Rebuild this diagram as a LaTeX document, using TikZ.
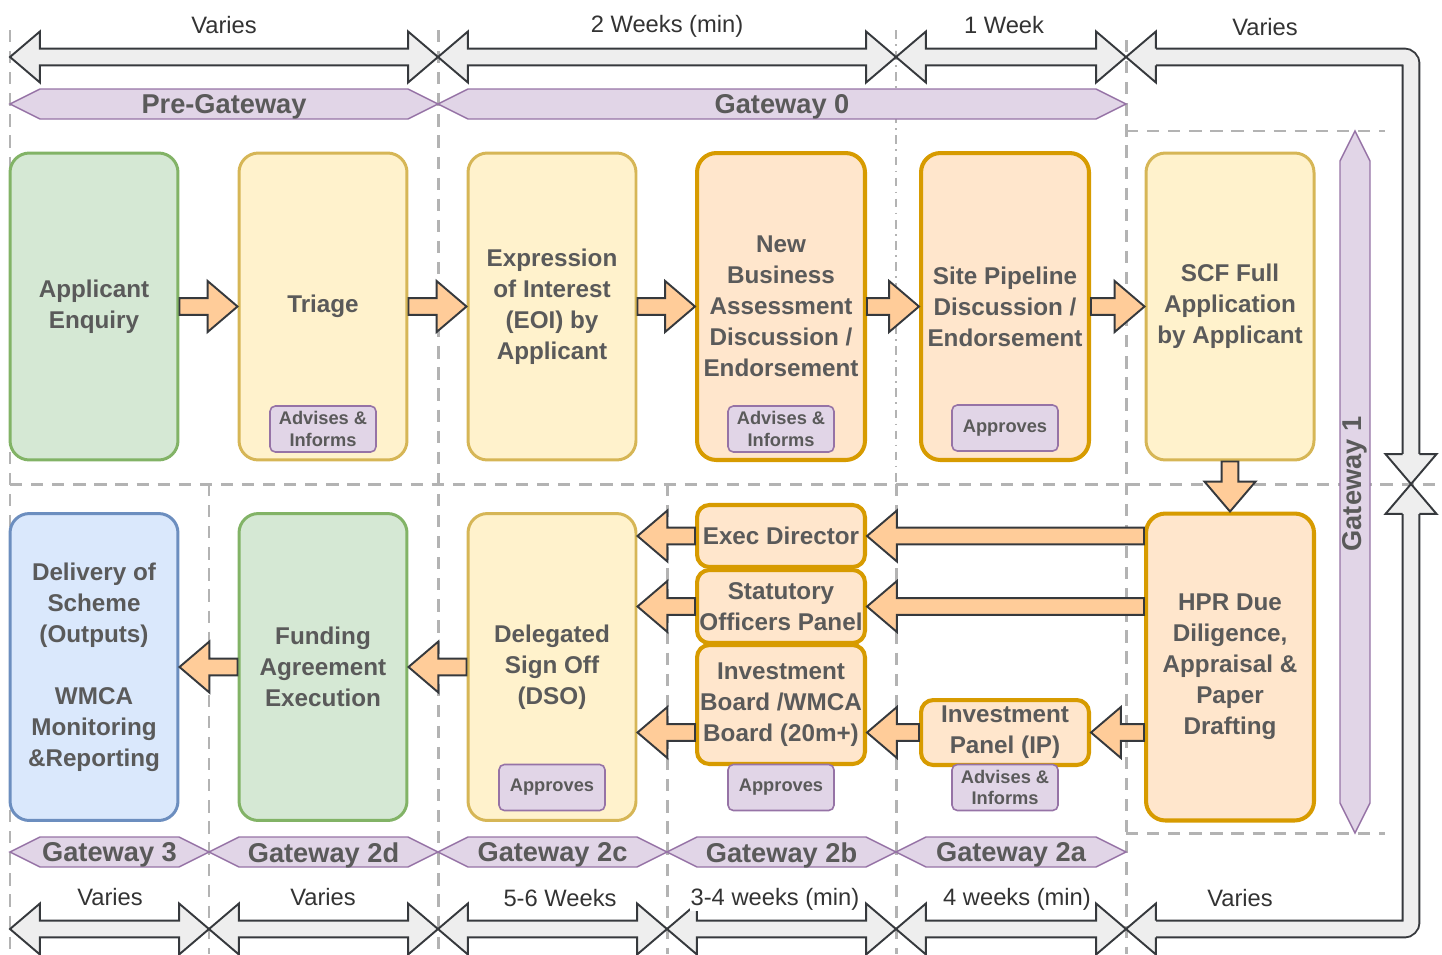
\documentclass[tikz,border=0pt]{standalone}
\usepackage{fontspec}
\setmainfont{Liberation Sans}
\usetikzlibrary{calc}

\definecolor{greenfill}{HTML}{D5E8D4}
\definecolor{greenline}{HTML}{82B366}
\definecolor{yellowfill}{HTML}{FFF2CC}
\definecolor{yellowline}{HTML}{D6B656}
\definecolor{orangefill}{HTML}{FFE6CC}
\definecolor{orangeline}{HTML}{D79B00}
\definecolor{bluefill}{HTML}{DAE8FC}
\definecolor{blueline}{HTML}{6C8EBF}
\definecolor{purplefill}{HTML}{E1D5E7}
\definecolor{purpleline}{HTML}{9673A6}
\definecolor{arrowfill}{HTML}{FFCC99}
\definecolor{spanfill}{HTML}{EEEEEE}
\definecolor{darkline}{HTML}{36393D}
\definecolor{gridgray}{HTML}{B3B3B3}
\definecolor{boxtext}{HTML}{5A5A5A}
\definecolor{labeltext}{HTML}{333333}

\newcommand{\headlen}{17pt}
\newcommand{\headhw}{14.5pt}
\newcommand{\shafthw}{4.8pt}

\newcommand{\blockarrow}[3][arrowfill]{%
  \path (#2) coordinate (ba-a) (#3) coordinate (ba-b);
  \path ($(ba-b)!\headlen!(ba-a)$) coordinate (ba-h);
  \draw[blockline, fill=#1] ($(ba-a)!\shafthw!90:(ba-b)$) -- ($(ba-h)!\shafthw!90:(ba-b)$)
    -- ($(ba-h)!\headhw!90:(ba-b)$) -- (ba-b) -- ($(ba-h)!\headhw!-90:(ba-b)$)
    -- ($(ba-h)!\shafthw!-90:(ba-b)$) -- ($(ba-a)!\shafthw!-90:(ba-b)$) -- cycle;
}

\newcommand{\spanarrow}[2]{%
  \path (#1) coordinate (sa-a) (#2) coordinate (sa-b);
  \path ($(sa-a)!\headlen!(sa-b)$) coordinate (sa-ha) ($(sa-b)!\headlen!(sa-a)$) coordinate (sa-hb);
  \draw[blockline, fill=spanfill] (sa-a) -- ($(sa-ha)!\headhw!90:(sa-b)$) -- ($(sa-ha)!\shafthw!90:(sa-b)$)
    -- ($(sa-hb)!\shafthw!90:(sa-b)$) -- ($(sa-hb)!\headhw!90:(sa-b)$) -- (sa-b)
    -- ($(sa-hb)!\headhw!-90:(sa-b)$) -- ($(sa-hb)!\shafthw!-90:(sa-b)$)
    -- ($(sa-ha)!\shafthw!-90:(sa-b)$) -- ($(sa-ha)!\headhw!-90:(sa-b)$) -- cycle;
}

\newcommand{\looparrow}[3]{%
  \path (#1) coordinate (la-a) (#2) coordinate (la-c) (#3) coordinate (la-b);
  \path ($(la-a)!\headlen!(la-c)$) coordinate (la-ha) ($(la-b)!\headlen!(la-c)$) coordinate (la-hb);
  \draw[line width=1.1pt, draw=darkline, double=spanfill, double distance=8.5pt, rounded corners=4pt] (la-ha) -- (la-c) -- (la-hb);
  \foreach \tp/\hb in {la-a/la-ha, la-b/la-hb} {
    \fill[spanfill] ($(\hb)!\headhw!90:(\tp)$) -- (\tp) -- ($(\hb)!\headhw!-90:(\tp)$) -- cycle;
    \draw[blockline] ($(\hb)!\shafthw!90:(\tp)$) -- ($(\hb)!\headhw!90:(\tp)$) -- (\tp)
      -- ($(\hb)!\headhw!-90:(\tp)$) -- ($(\hb)!\shafthw!-90:(\tp)$);
  }
}

\tikzset{
  stage/.style={rectangle, rounded corners=11pt, minimum width=3.36cm, minimum height=6.14cm,
    line width=1.7pt, inner sep=0.5pt, align=center, text=boxtext,
    font=\fontsize{13.8}{17.6}\selectfont\bfseries},
  greenstage/.style={stage, draw=greenline, fill=greenfill},
  yellowstage/.style={stage, draw=yellowline, fill=yellowfill},
  orangestage/.style={stage, draw=orangeline, fill=orangefill, line width=2.3pt},
  bluestage/.style={stage, draw=blueline, fill=bluefill},
  panel/.style={rectangle, rounded corners=7pt, minimum width=3.36cm, line width=2.3pt,
    draw=orangeline, fill=orangefill, inner sep=0.5pt, align=center, text=boxtext,
    font=\fontsize{13.8}{17.6}\selectfont\bfseries},
  tag/.style={rectangle, rounded corners=3pt, draw=purpleline, fill=purplefill, line width=0.9pt,
    minimum width=2.12cm, minimum height=0.92cm, inner sep=0pt, align=center, text=boxtext,
    font=\fontsize{10.4}{12.4}\selectfont\bfseries},
  gateband/.style={draw=purpleline, fill=purplefill, line width=0.8pt},
  gatetext/.style={text=boxtext, font=\fontsize{15.5}{18}\selectfont\bfseries, inner sep=0pt},
  spantext/.style={text=labeltext, font=\fontsize{13.5}{16}\selectfont, fill=white, inner sep=0.5pt},
  gridline/.style={draw=gridgray, line width=1.7pt, dash pattern=on 7pt off 5pt},
  thingrid/.style={draw=gridgray, line width=0.9pt, dash pattern=on 5pt off 3pt on 1pt off 3pt},
  blockline/.style={draw=darkline, line width=1.1pt, line join=miter},
}

\begin{document}
\begin{tikzpicture}[x=0.02cm, y=-0.02cm]
\useasboundingbox (0,0) rectangle (1442,954);

\draw[gridline] (10,30) -- (10,954);
\draw[gridline] (438,30) -- (438,954);
\draw[thingrid] (896,30) -- (896,484);
\draw[gridline] (896,484) -- (896,954);
\draw[gridline] (1126,40) -- (1126,954);
\draw[gridline] (209,484) -- (209,954);
\draw[gridline] (667,484) -- (667,954);
\draw[gridline] (10,484) -- (1438,484);
\draw[gridline] (1126,131) -- (1385,131);
\draw[gridline] (1126,833) -- (1385,833);

\coordinate (t0) at (10,57);
\coordinate (t1) at (438,57);
\coordinate (t2) at (896,57);
\coordinate (t3) at (1126,57);
\coordinate (tc) at (1411,57);
\coordinate (mid) at (1411,484);
\coordinate (b0) at (10,929);
\coordinate (b1) at (209,929);
\coordinate (b2) at (438,929);
\coordinate (b3) at (667,929);
\coordinate (b4) at (896,929);
\coordinate (b5) at (1126,929);
\coordinate (bc) at (1411,929);

\spanarrow{t0}{t1}
\spanarrow{t1}{t2}
\spanarrow{t2}{t3}
\looparrow{t3}{tc}{mid}
\spanarrow{b0}{b1}
\spanarrow{b1}{b2}
\spanarrow{b2}{b3}
\spanarrow{b3}{b4}
\spanarrow{b4}{b5}
\looparrow{b5}{bc}{mid}

\node[spantext] (lt0) at (224,25) {Varies};
\node[spantext] (lt1) at (667,26) {2 Weeks (min)};
\node[spantext] (lt2) at (1004,25) {1 Week};
\node[spantext] (lt3) at (1265,27) {Varies};
\node[spantext] (lb0) at (110,897) {Varies};
\node[spantext] (lb1) at (323,897) {Varies};
\node[spantext] (lb2) at (560,898) {5-6 Weeks};
\node[spantext] (lb3) at (775,899) {3-4 weeks (min)};
\node[spantext] (lb4) at (1017,899) {4 weeks (min)};
\node[spantext] (lb5) at (1240,898) {Varies};

\foreach \xa/\xb/\yc/\lab/\nm in {10/438/104/Pre-Gateway/gpre, 438/1126/104/Gateway 0/gzero,
    10/209/852/Gateway 3/gthree, 209/438/852/Gateway 2d/gtwod, 438/667/852/Gateway 2c/gtwoc,
    667/896/852/Gateway 2b/gtwob, 896/1126/852/Gateway 2a/gtwoa} {
  \draw[gateband] (\xa,\yc) -- (\xa+30,\yc-15) -- (\xb-30,\yc-15) -- (\xb,\yc)
    -- (\xb-30,\yc+15) -- (\xa+30,\yc+15) -- cycle;
  \node[gatetext] (\nm) at ({(\xa+\xb)/2},\yc+3) {\lab};
}
\draw[gateband] (1355,131) -- (1370,161) -- (1370,803) -- (1355,833) -- (1340,803) -- (1340,161) -- cycle;
\node[gatetext, rotate=90] (gone) at (1355,484) {Gateway 1};

\node[greenstage] (enq) at (94,306.5) {Applicant\\Enquiry};
\node[yellowstage] (tri) at (323,306.5) {Triage};
\node[yellowstage] (eoi) at (552,306.5) {Expression\\of Interest\\(EOI) by\\Applicant};
\node[orangestage] (nba) at (781,306.5) {New\\Business\\Assessment\\Discussion /\\Endorsement};
\node[orangestage] (spd) at (1005,306.5) {Site Pipeline\\Discussion /\\Endorsement};
\node[yellowstage] (scf) at (1230,306.5) {SCF Full\\Application\\by Applicant};

\node[bluestage] (dlv) at (94,667) {Delivery of\\Scheme\\(Outputs)\\[17.6pt]WMCA\\Monitoring\\\&Reporting};
\node[greenstage] (fae) at (323,667) {Funding\\Agreement\\Execution};
\node[yellowstage] (dso) at (552,667) {Delegated\\Sign Off\\(DSO)};
\node[orangestage] (hpr) at (1230,667) {HPR Due\\Diligence,\\Appraisal \&\\Paper\\Drafting};

\node[panel, minimum height=1.24cm] (exd) at (781,536) {Exec Director};
\node[panel, minimum height=1.46cm] (sop) at (781,606.5) {Statutory\\Officers Panel};
\node[panel, minimum height=2.38cm] (ib) at (781,704.5) {Investment\\Board /WMCA\\Board (20m+)};
\node[panel, minimum height=1.3cm] (ip) at (1005,732.5) {Investment\\Panel (IP)};

\node[tag] (tritag) at (323,429) {Advises \&\\Informs};
\node[tag] (nbatag) at (781,429) {Advises \&\\Informs};
\node[tag] (spdtag) at (1005,428) {Approves};
\node[tag] (dsotag) at (552,787.5) {Approves};
\node[tag] (ibtag) at (781,787.5) {Approves};
\node[tag] (iptag) at (1005,787.5) {Advises \&\\Informs};

\blockarrow{enq.east}{tri.west}
\blockarrow{tri.east}{eoi.west}
\blockarrow{eoi.east}{nba.west}
\blockarrow{nba.east}{spd.west}
\blockarrow{spd.east}{scf.west}
\blockarrow{scf.south}{hpr.north}
\blockarrow{hpr.west |- exd.east}{exd.east}
\blockarrow{hpr.west |- sop.east}{sop.east}
\blockarrow{hpr.west |- ip.east}{ip.east}
\blockarrow{ip.west}{ib.east |- ip.west}
\blockarrow{exd.west}{dso.east |- exd.west}
\blockarrow{sop.west}{dso.east |- sop.west}
\blockarrow{ib.west |- ip.west}{dso.east |- ip.west}
\blockarrow{dso.west}{fae.east}
\blockarrow{fae.west}{dlv.east}

\end{tikzpicture}
\end{document}
